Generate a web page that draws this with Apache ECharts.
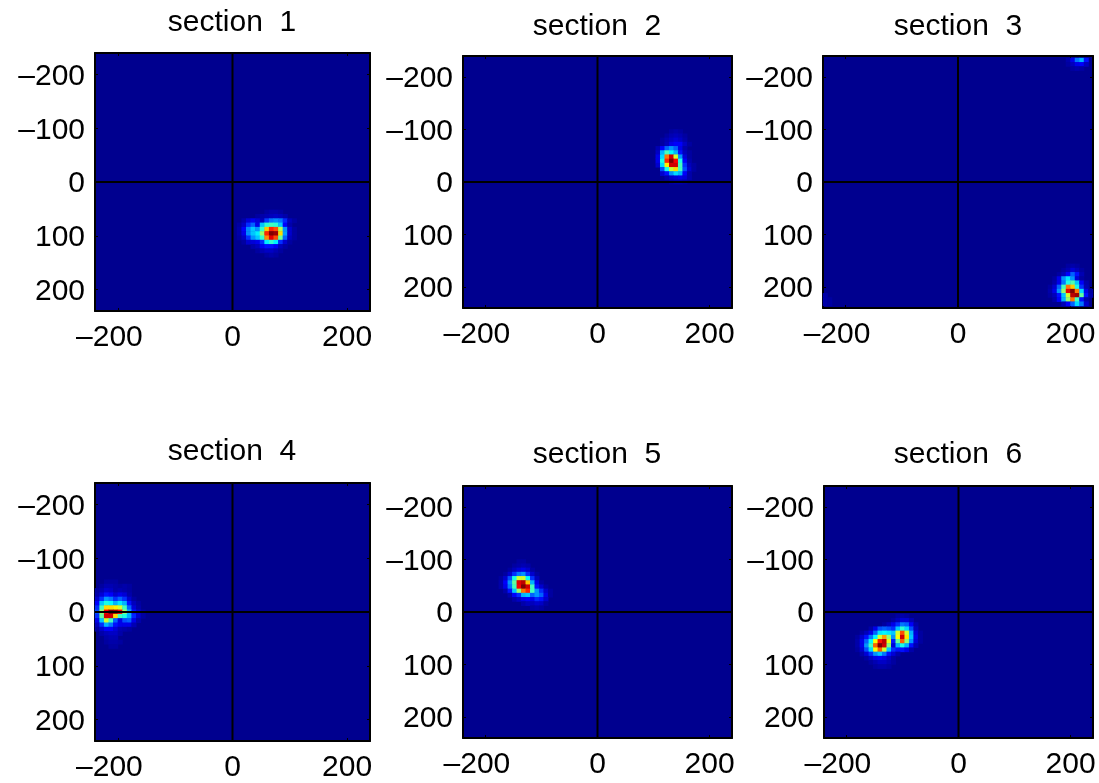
<!DOCTYPE html>
<html><head><meta charset="utf-8">
<style>html,body{margin:0;padding:0;background:#fff}#c{width:1099px;height:783px}</style>
<script src="https://cdn.jsdelivr.net/npm/echarts@6/dist/echarts.min.js"></script>
</head><body><div id="c"></div>
<script>
// Each row: [y centre, x centre of first cell, then intensity (percent) of consecutive 8-unit cells]
const section1 = [
 [56,60,2,3,3,2],
 [64,44,2,3,4,5,6,5,3],
 [72,20,3,8,11,8,5,18,24,26,24,16,5,2],
 [80,12,2,6,17,22,10,32,42,44,42,32,12,3],
 [88,12,3,12,26,32,27,42,68,84,80,55,27,7,2],
 [96,12,3,10,26,32,36,52,84,100,97,66,28,7,2],
 [104,12,2,6,17,27,32,42,74,90,80,48,22,5,2],
 [112,20,2,7,8,10,17,36,42,36,17,7,2],
 [120,36,3,5,11,14,14,11,5,2],
 [128,44,2,4,6,6,4,2],
 [136,60,2,3,2]
];
const section2 = [
 [-96,132,2,3,2],
 [-88,124,2,4,5,4,2],
 [-80,116,2,4,6,8,6,3],
 [-72,116,2,5,10,12,12,6,2],
 [-64,108,4,12,22,27,22,10,3],
 [-56,108,6,30,44,37,30,14,5,2],
 [-48,108,10,34,76,92,58,27,8,2],
 [-40,108,10,40,84,100,88,40,12,3],
 [-32,108,7,34,64,92,92,44,17,5,2],
 [-24,116,20,40,57,66,44,20,7,2],
 [-16,116,7,14,27,34,30,12,3],
 [-8,124,3,6,8,10,8,3],
 [0,132,2,3,3,2]
];
const section3 = [
 [-232,196,3,10,24,30,14],
 [-224,196,2,5,10,12,5],
 [-216,204,2,3,2],
 [160,196,2,3,2],
 [168,188,2,4,8,5,2],
 [176,180,2,5,12,22,14,4],
 [184,172,2,10,27,35,27,8,2],
 [192,172,3,10,24,40,45,32,12,3],
 [200,164,2,7,22,44,76,68,40,17,4],
 [208,164,3,10,27,52,90,100,76,34,10,2],
 [216,164,2,5,14,32,58,94,97,47,14,3],
 [224,172,3,12,30,52,76,44,14,3],
 [232,188,4,12,22,34,24,7],
 [216,-236,3],
 [224,-236,3,2],
 [232,-236,3,2]
];
const section4 = [
 [-64,216,2,3,3],
 [-56,-220,2,2,2],
 [-56,216,3,4,4],
 [-48,-228,2,4,4,3,2,3,2],
 [-48,216,3,4,5],
 [-40,-236,2,4,7,6,3,4,3,2],
 [-40,216,3,5,5],
 [-32,-236,3,8,14,12,7,10,8,3],
 [-32,216,4,5,6],
 [-24,-236,7,17,27,24,17,22,17,7,2],
 [-24,216,4,5,6],
 [-16,-236,12,32,40,37,30,35,30,14,5,2],
 [-16,216,3,5,5],
 [-8,-236,17,44,66,66,64,58,44,22,8,3],
 [-8,216,3,4,4],
 [0,-236,20,52,88,100,97,88,52,30,14,7,2],
 [0,216,2,3,3],
 [8,-236,17,47,92,92,66,44,40,30,16,7,2],
 [16,-236,10,32,58,44,22,10,20,22,10,3],
 [24,-236,5,17,30,24,14,10,10,10,4],
 [32,-236,2,7,12,12,8,4,3,2],
 [40,-228,3,5,6,6,3],
 [48,-220,3,4,4],
 [56,-220,2,3,3,2],
 [64,-212,2,2]
];
const section5 = [
 [-96,-140,2,2],
 [-88,-148,2,3,4,3],
 [-80,-156,2,5,8,10,7,2],
 [-72,-164,2,7,17,24,27,17,7,2],
 [-64,-172,2,7,20,40,58,58,37,17,5],
 [-56,-172,3,12,27,47,90,94,68,30,10,2],
 [-48,-172,3,10,24,44,88,100,92,44,14,7,2],
 [-40,-164,3,14,32,52,76,84,44,27,17,7,2],
 [-32,-156,3,12,17,30,32,22,27,22,10,2],
 [-24,-148,3,6,10,12,10,16,14,7],
 [-16,-132,3,5,5,7,6,2],
 [-8,-116,2,3,2]
];
const section6 = [
 [8,-108,2,3,2],
 [16,-116,2,5,8,8,4],
 [24,-132,2,5,10,17,24,22,12,3],
 [32,-156,3,10,20,22,20,17,32,42,34,20,5],
 [40,-172,2,5,10,22,35,37,35,32,58,80,58,30,8,2],
 [48,-180,2,7,14,24,37,58,72,52,27,62,92,65,32,10,2],
 [56,-180,3,10,22,37,62,86,94,60,15,47,78,52,27,8,2],
 [64,-180,3,10,27,44,78,100,92,50,8,30,40,30,14,4],
 [72,-180,2,7,20,34,62,78,58,32,17,14,14,10,3],
 [80,-172,3,8,17,27,32,24,14,8,3],
 [88,-164,2,6,10,12,10,6,2],
 [96,-156,2,4,6,6,4,2],
 [104,-148,2,3,3,2]
];
const sections = [section1, section2, section3, section4, section5, section6];
const sectionTitles = ['section  1','section  2','section  3','section  4','section  5','section  6'];
const xTicks = [-200, 0, 200];
const yTicks = [-200, -100, 0, 100, 200];
const axisLimit = 240;
const cellSize = 8;
const crossV = [[0,-240],[0,240]];
const crossH = [[-240,0],[240,0]];
const jet = ['#00008f','#0000ff','#0080ff','#00ffff','#80ff80','#ffff00','#ff8000','#ff0000','#800000'];

const panels = [
 {l:95, t:53, w:275,h:258,tx:232,ty:23},
 {l:463,t:56, w:269,h:252,tx:597,ty:27},
 {l:823,t:56, w:270,h:252,tx:958,ty:27},
 {l:95, t:483,w:275,h:258,tx:232,ty:452},
 {l:463,t:486,w:269,h:252,tx:597,ty:455},
 {l:824,t:486,w:269,h:252,tx:958,ty:455}
];
const FONT = '"Liberation Sans", Arial, sans-serif';
const LABEL = {fontFamily:FONT,fontSize:30,color:'#000'};

const xCats = [], yCats = [];
for (let u = -axisLimit + cellSize/2; u < axisLimit; u += cellSize) xCats.push(u);
for (let u = -axisLimit; u <= axisLimit; u += cellSize) yCats.push(u);

function cells(rows){
  const out = [];
  rows.forEach(r => {
    for (let i = 2; i < r.length; i++){
      if (r[i] > 0) out.push([String(r[1] + (i-2)*cellSize), String(r[0]), r[i]/100]);
    }
  });
  return out;
}
function valueAxis(gi, position, labels, ticks){
  const vertical = position==='left'||position==='right';
  return {
    type:'value', gridIndex:gi, position, min:-axisLimit, max:axisLimit,
    inverse: vertical,
    splitLine:{show:false},
    axisLine:{show:true,onZero:false,lineStyle:{color:'#000',width:2}},
    axisTick:{show:true,inside:true,length:3,customValues:ticks,lineStyle:{color:'#000',width:1}},
    axisLabel:Object.assign({show:labels,customValues:ticks,margin:vertical?10:12,
      hideOverlap:false,showMinLabel:true,showMaxLabel:true,
      padding:vertical?[4,0,0,0]:0,
      formatter:v=>{
        if (v>=0) return String(v);
        return vertical ? '\u2013'+Math.abs(v) : '{n|\u2013'+Math.abs(v)+'}';
      },
      rich:{n:Object.assign({padding:[0,17,0,0]},LABEL)}},LABEL),
    axisPointer:{show:false}
  };
}
const grid=[], xAxis=[], yAxis=[], series=[], title=[];
panels.forEach((p,i)=>{
  grid.push({left:p.l,top:p.t,width:p.w,height:p.h,show:true,backgroundColor:'#00008f',borderWidth:0});
  title.push({text:sectionTitles[i],left:p.tx,top:p.ty-15,textAlign:'center',padding:0,
    textStyle:{fontFamily:FONT,fontSize:30,fontWeight:'normal',color:'#000',lineHeight:30}});
  const xb=xAxis.length, yb=yAxis.length;
  xAxis.push({type:'category',gridIndex:i,data:xCats.map(String),show:false});
  xAxis.push(valueAxis(i,'bottom',true,xTicks));
  xAxis.push(valueAxis(i,'top',false,xTicks));
  yAxis.push({type:'category',gridIndex:i,data:yCats.map(String),show:false,inverse:true,boundaryGap:false});
  yAxis.push(valueAxis(i,'left',true,yTicks));
  yAxis.push(valueAxis(i,'right',false,yTicks));
  series.push({type:'heatmap',name:sectionTitles[i],xAxisIndex:xb,yAxisIndex:yb,data:cells(sections[i]),
    itemStyle:{borderWidth:0},emphasis:{disabled:true},progressive:0,z:1});
  [crossV,crossH].forEach(d=>series.push({type:'line',xAxisIndex:xb+1,yAxisIndex:yb+1,data:d,
    showSymbol:false,symbol:'none',lineStyle:{color:'#000',width:2},silent:true,z:5}));
});
const chart = echarts.init(document.getElementById('c'),null,{renderer:'canvas'});
chart.setOption({
  animation:false,backgroundColor:'#fff',title,grid,xAxis,yAxis,series,
  visualMap:{show:false,type:'continuous',min:0,max:1,dimension:2,
    seriesIndex:[0,3,6,9,12,15],inRange:{color:jet}}
});
</script></body></html>
